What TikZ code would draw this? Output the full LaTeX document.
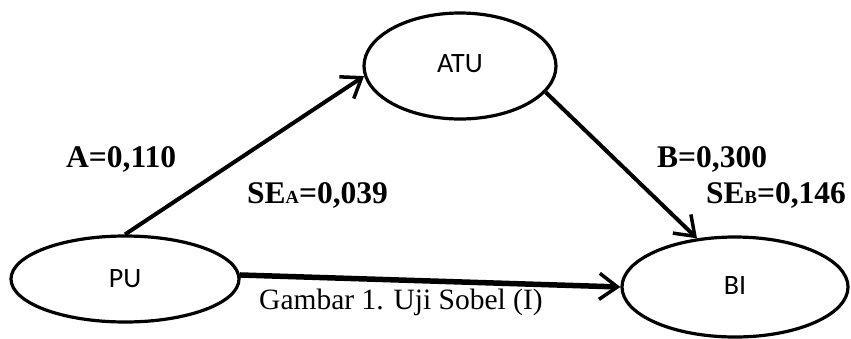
\documentclass[tikz,border=0pt]{standalone}
\usepackage{fontspec}
\setmainfont{Liberation Serif}
\newfontfamily\lblfont{Carlito}
\usetikzlibrary{shapes.geometric,arrows.meta}
\begin{document}
\begin{tikzpicture}[x=1pt,y=-1pt,
  var/.style={ellipse,draw,line width=3.2pt,inner sep=0pt,font=\lblfont\fontsize{28}{30}\selectfont},
  path/.style={line width=4pt,-{Straight Barb[length=18pt,width=26pt,line width=3.5pt]}},
  coef/.style={font=\bfseries\fontsize{31.5}{33}\selectfont,inner sep=0pt,anchor=base west}]
\useasboundingbox (0,0) rectangle (851,338);
\clip (0,0) rectangle (851,338);
\node[var,minimum width=192pt,minimum height=106pt] (atu) at (460,66) {\raisebox{5pt}{ATU}};
\node[var,minimum width=228pt,minimum height=86pt] (pu) at (125,279) {\raisebox{-2.5pt}{PU}};
\node[var,minimum width=226pt,minimum height=100pt] (bi) at (735,287) {\raisebox{2.5pt}{BI}};
\draw[path] (pu.north) -- (atu.186);
\draw[path] (atu.-17) -- (bi.128);
\draw[path,line width=5.5pt] (pu.2) -- (bi.180);
\node[coef] (a) at (66,167) {A=0,110};
\node[coef] (sea) at (247,203) {SE{\fontsize{18.5}{20}\selectfont A}=0,039};
\node[coef] (b) at (657,167) {B=0,300};
\node[coef] (seb) at (706,203) {SE{\fontsize{18.5}{20}\selectfont B}=0,146};
\node[inner sep=0pt,anchor=base west,font=\fontsize{29.5}{31}\selectfont] (cap) at (259,309) {Gambar 1. Uji Sobel (I)};
\end{tikzpicture}
\end{document}
